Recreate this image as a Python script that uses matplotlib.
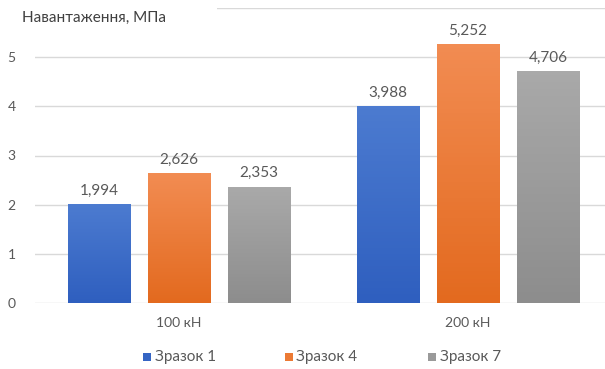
import numpy as np
import matplotlib
matplotlib.use("Agg")
import matplotlib.pyplot as plt
from matplotlib.patches import Rectangle
from matplotlib.colors import LinearSegmentedColormap

plt.rcParams['font.family'] = ['Lato', 'Open Sans', 'DejaVu Sans']

categories = ["100 кН", "200 кН"]
series_names = ["Зразок 1", "Зразок 4", "Зразок 7"]
zrazok_1 = [1.994, 3.988]
zrazok_4 = [2.626, 5.252]
zrazok_7 = [2.353, 4.706]
value_labels = [["1,994", "3,988"], ["2,626", "5,252"], ["2,353", "4,706"]]
y_ticks = [0, 1, 2, 3, 4, 5, 6]
y_tick_labels = ["0", "1", "2", "3", "4", "5", ""]
y_title = "Навантаження, МПа"

series = [zrazok_1, zrazok_4, zrazok_7]
# (top colour, bottom colour) for the vertical gradient fill of each series
grad = [("#4c7bd0", "#2f5fbf"), ("#f28c52", "#e36a1f"), ("#a9a9a9", "#8d8d8d")]
legend_colors = ["#3565c4", "#ec7a34", "#9a9a9a"]
text_col = "#595959"

fig = plt.figure(figsize=(6.05, 3.69), dpi=100)
ax = fig.add_axes([35 / 605, 66 / 369, 570 / 605, 295 / 369])

width = 0.2145
step = 0.277
x = np.arange(len(categories))

for i, (vals, (ctop, cbot)) in enumerate(zip(series, grad)):
    cmap = LinearSegmentedColormap.from_list("g%d" % i, [cbot, ctop])
    pos = x + (i - 1) * step
    bars = ax.bar(pos, vals, width, color="none", edgecolor="none", zorder=3)
    for b, v, lab in zip(bars, vals, value_labels[i]):
        x0 = b.get_x()
        g = np.linspace(0, 1, 64).reshape(-1, 1)
        ax.imshow(g, cmap=cmap, origin="lower", aspect="auto",
                  extent=(x0, x0 + b.get_width(), 0, v), zorder=3)
        ax.annotate(lab, (b.get_x() + b.get_width() / 2, v), xytext=(0, 5),
                    textcoords="offset points", ha="center", va="bottom",
                    fontsize=11, color=text_col)

ax.set_xlim(-0.498, 1.474)
ax.set_ylim(0, 6)
ax.set_yticks(y_ticks)
ax.set_yticklabels(y_tick_labels)
ax.set_xticks(x)
ax.set_xticklabels(categories)
ax.tick_params(axis="both", length=0, labelsize=10, labelcolor=text_col)
ax.tick_params(axis="y", pad=14)
ax.tick_params(axis="x", pad=10)
ax.yaxis.grid(True, color="#d9d9d9", linewidth=1, zorder=0)
ax.set_axisbelow(True)
for s in ax.spines.values():
    s.set_visible(False)

# white box behind the axis title, hiding the start of the top gridline
ax.add_patch(Rectangle((-35 / 570, 0.94), 217 / 570, 0.1, transform=ax.transAxes,
                       facecolor="white", edgecolor="none", clip_on=False, zorder=4))
fig.text(22 / 605, 1 - 18 / 369, y_title, ha="left", va="center",
         fontsize=11, color="#404040", zorder=5)

# legend
leg_marker_x = [147, 289, 432]
leg_text_x = [155, 296, 440]
for mx, tx, name, c in zip(leg_marker_x, leg_text_x, series_names, legend_colors):
    fig.patches.append(Rectangle(((mx - 4) / 605, 1 - 361 / 369), 8 / 605, 8 / 369,
                                 transform=fig.transFigure, facecolor=c,
                                 edgecolor="none"))
    fig.text(tx / 605, 1 - 357 / 369, name, ha="left", va="center",
             fontsize=11, color=text_col)

fig.savefig("out.png", dpi=100)
